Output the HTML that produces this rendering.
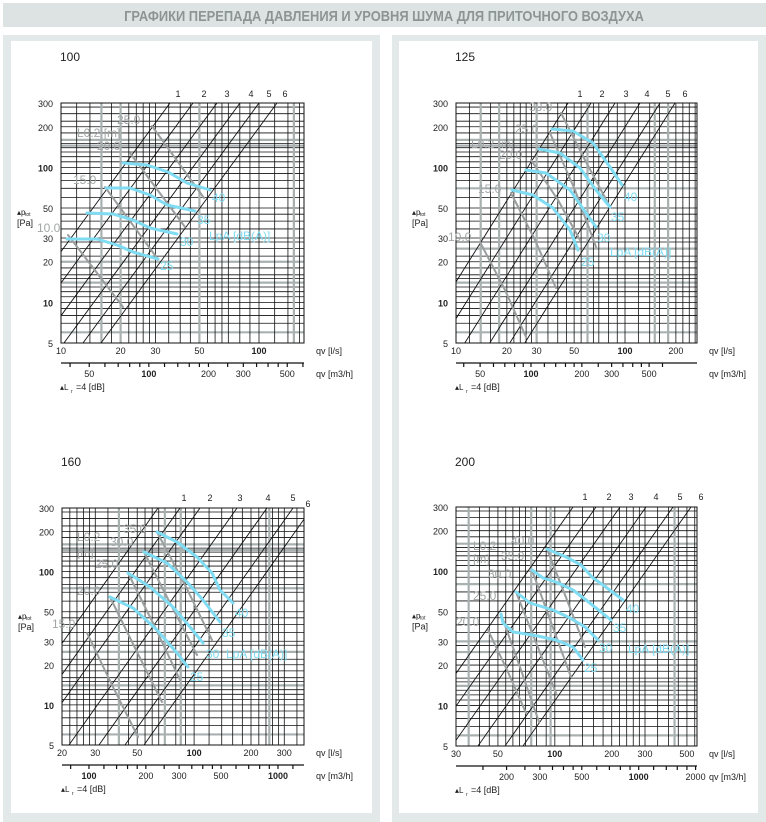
<!DOCTYPE html>
<html><head><meta charset="utf-8">
<style>
body{margin:0;background:#fff;width:766px;height:822px;overflow:hidden;font-family:"Liberation Sans",sans-serif}
svg{display:block}
</style></head><body>
<svg id="s" width="766" height="822" xmlns="http://www.w3.org/2000/svg" font-family="Liberation Sans, sans-serif">
<rect x="0" y="0" width="766" height="822" fill="#ffffff"/>
<rect x="3" y="3" width="763" height="24" fill="#dde3e3"/>
<text x="384" y="21" text-anchor="middle" font-size="15" font-weight="bold" fill="#8d9494" transform="translate(384 0) scale(0.86 1) translate(-384 0)">ГРАФИКИ ПЕРЕПАДА ДАВЛЕНИЯ И УРОВНЯ ШУМА ДЛЯ ПРИТОЧНОГО ВОЗДУХА</text>
<rect x="3" y="35" width="377" height="787" fill="#e3e9e9"/>
<rect x="392" y="35" width="374" height="787" fill="#e3e9e9"/>
<rect x="11" y="41" width="361" height="772" fill="#ffffff"/>
<rect x="399" y="41" width="359" height="772" fill="#ffffff"/>
<g id="g"></g>
</svg>
<script>
var NS="http://www.w3.org/2000/svg",G=document.getElementById('g');
function el(t,a,txt){var e=document.createElementNS(NS,t);for(var k in a)e.setAttribute(k,a[k]);if(txt!=null)e.textContent=txt;G.appendChild(e);return e;}
function L(x1,y1,x2,y2,c,w){el('line',{x1:x1,y1:y1,x2:x2,y2:y2,stroke:c,'stroke-width':w});}
function T(x,y,s,o){o=o||{};var a={x:x,y:y,'font-size':o.fs||9,fill:o.c||'#222'};if(o.a)a['text-anchor']=o.a;if(o.b)a['font-weight']='bold';el('text',a,s);}
function P(pts,c,w){el('polyline',{points:pts.map(function(p){return p.join(',')}).join(' '),fill:'none',stroke:c,'stroke-width':w,'stroke-linecap':'round','stroke-linejoin':'round'});}
var XS=[1,1.2,1.4,1.6,1.8,2,2.2,2.4,2.6,2.8,3,3.5,4,4.5,5,5.5,6,6.5,7,8,9];
var YS=[1,1.1,1.2,1.3,1.4,1.5,1.6,1.8,2,2.2,2.5,2.8,3,3.5,4,4.5,5,6,7,8,9];
function chart(c){
 var x0=c.x0,x1=c.x1,y0=c.y0,y1=c.y1,xpd=c.xpd,ypd=(y1-y0)/Math.log10(60);
 function X(v){return x0+Math.log10(v/c.xmin)*xpd;}
 function Y(v){return y1-Math.log10(v/5)*ypd;}
 T(c.x0-1,c.ty,c.title,{fs:12,c:'#222'});
 for(var d=0;d<=2;d++)YS.forEach(function(m){var v=m*Math.pow(10,d);if(v<5||v>300)return;var y=Y(v);L(x0,y,x1,y,'#111',0.8);});
 c.gh.forEach(function(v){var y=Y(v);L(x0,y,x1,y,'#a9b0b0',2.2);});
 for(d=0;d<=3;d++)XS.forEach(function(m){var v=m*Math.pow(10,d);var x=X(v);if(x<x0-0.5||x>x1+0.5)return;L(x,y0,x,y1,'#111',0.8);});
 c.gv.forEach(function(v){var x=X(v);L(x,y0,x,y1,'#a9b0b0',2.2);});
 el('rect',{x:x0,y:y0,width:x1-x0,height:y1-y0,fill:'none',stroke:'#111','stroke-width':1});
 var s=2*ypd/xpd;
 var cpth=el('clipPath',{id:'c'+c.title});
 var cp=document.createElementNS(NS,'rect');cpth.appendChild(cp);
 cp.setAttribute('x',x0);cp.setAttribute('y',y0);cp.setAttribute('width',x1-x0);cp.setAttribute('height',y1-y0);
 c.diag.forEach(function(xt){var xb=xt-(y1-y0)/s;el('line',{x1:xb,y1:y1,x2:xt,y2:y0,stroke:'#111','stroke-width':0.9,'clip-path':'url(#c'+c.title+')'});});
 c.dl.forEach(function(x,i){T(x,c.dly,String(i+1),{fs:9,a:'middle'});});
 c.gl.forEach(function(l){P(l,'#9a9e9e',2);});
 c.cy.forEach(function(l){P(l,'#7fdcf2',3);});
 c.glab.forEach(function(t){T(t[0],t[1],t[2],{fs:12,c:'#a2a6a6'});});
 c.clab.forEach(function(t){T(t[0],t[1],t[2],{fs:12,c:'#7fdcf2'});});
 [300,200,100,50,30,20,10,5].forEach(function(v){T(x0-8,Y(v)+4,String(v),{fs:9,a:'end',b:(v==100||v==10)});});
 T(c.x0-44,Y(45)+1,'\u25B4p',{fs:8});T(c.x0-36,Y(45)+2,'tot',{fs:5});
 T(c.x0-44,Y(45)+12,'[Pa]',{fs:9});
 c.xl.forEach(function(v){T(X(v),y1+11,String(v),{fs:9,a:'middle',b:v==100});});
 T(x1+12,y1+11,'qv [l/s]',{fs:9});
 var ay=y1+20;L(x0,ay,x1,ay,'#111',1.2);
 c.mt.forEach(function(v){var x=X(v/3.6);if(x<x0||x>x1)return;L(x,ay,x,ay+4,'#111',1.2);});
 c.ml.forEach(function(v){T(X(v/3.6),ay+14,String(v),{fs:9,a:'middle',b:v==100||v==1000});});
 T(x1+12,ay+14,'qv [m3/h]',{fs:9});
 T(x0-1,ay+27,'\u25B4L',{fs:8});T(x0+10,ay+30,'r',{fs:5});T(x0+15,ay+27,'=4 [dB]',{fs:9});
}
var MT1=[40,50,60,70,80,90,100,120,140,160,180,200,250,300,350,400,450,500,600];
var MT2=[80,100,120,140,160,180,200,250,300,350,400,450,500,600,700,800,900,1000,1200];
var MT3=[150,200,250,300,350,400,450,500,600,700,800,900,1000,1200,1400,1600,1800,2000];
chart({title:'100',ty:61,x0:61,x1:304,y0:103,y1:343,xmin:10,xpd:198,
 gh:[6,14,20,160,145],gv:[16,20,50,150],
 diag:[170,193,217,240,259,277],dl:[178,204,227,251,269,285],dly:97,
 gl:[[[152,126],[204,198]],[[130,153],[185,227]],[[105,187],[157,258]],[[68,235],[123,307]]],
 cy:[[[123,163],[147,165],[168,172],[187,183],[210,190]],[[106,188],[130,188],[150,195],[167,205],[195,211]],[[87,213],[113,214],[133,220],[150,228],[177,234]],[[67,239],[97,239],[117,245],[133,252],[158,259]]],
 glab:[[117,124,'25.0'],[77,137,'L0.2 [m]'],[97,150,'20.0'],[73,184,'15.0'],[37,232,'10.0']],
 clab:[[212,202,'40'],[197,224,'35'],[180,246,'30'],[160,270,'25'],[209,240,'LpA [dB(A)]']],
 xl:[10,20,30,50,100],ml:[50,100,200,300,500],mt:MT1});
chart({title:'125',ty:61,x0:456,x1:697,y0:103,y1:343,xmin:10,xpd:169,
 gh:[6,14,25,70,160,145],gv:[14,18,30,60,150,180],
 diag:[568,591,615,640,660,675],dl:[580,602,626,647,668,685],dly:97,
 gl:[[[561,113],[585,160],[610,207]],[[550,133],[575,190],[596,247]],[[531,160],[558,200],[580,240]],[[511,193],[535,240],[556,288]],[[480,242],[505,290],[526,337]]],
 cy:[[[552,129],[573,131],[593,143],[610,167],[622,185]],[[539,149],[560,153],[580,168],[596,190],[610,207]],[[526,170],[546,173],[570,190],[586,213],[596,227]],[[512,190],[533,195],[553,208],[570,230],[578,250]]],
 glab:[[529,111,'30.0'],[515,133,'25.0'],[471,148,'L0.2 [m]'],[499,159,'20.0'],[478,193,'15.0'],[448,241,'10.0']],
 clab:[[624,201,'40'],[611,221,'35'],[597,242,'30'],[581,266,'25'],[610,256,'LpA [dB(A)]']],
 xl:[10,20,30,50,100,200],ml:[50,100,200,300,500],mt:MT1});
chart({title:'160',ty:466,x0:62,x1:304,y0:508,y1:745,xmin:20,xpd:189,
 gh:[6,14,25,75,160,145],gv:[40,70,85,250],
 diag:[158,180,200,237,267,293,312],dl:[184,210,240,268,293],dly:501,
 gl:[[[157,532],[185,585],[212,640]],[[144,552],[170,603],[197,655]],[[128,573],[154,625],[180,680]],[[110,597],[136,650],[162,702]],[[87,633],[112,685],[138,737]]],
 cy:[[[157,532],[177,542],[197,557],[212,573],[220,590],[233,603]],[[144,552],[167,563],[187,582],[203,600],[220,622]],[[128,573],[150,587],[173,607],[190,627],[203,643]],[[110,597],[133,608],[157,630],[177,653],[188,667]]],
 glab:[[123,533,'35.0'],[77,541,'L0.2'],[110,546,'30.0'],[77,556,'[m]'],[95,568,'25.0'],[77,595,'20.0'],[52,628,'15.0']],
 clab:[[235,617,'40'],[222,637,'35'],[206,658,'30'],[190,681,'25'],[226,658,'LpA [dB(A)]']],
 xl:[20,30,50,100,200,300],ml:[100,200,300,500,1000],mt:MT2});
T(308,507,'6',{fs:9,a:'middle'});
chart({title:'200',ty:466,x0:456,x1:697,y0:507,y1:746,xmin:30,xpd:189,
 gh:[6,14,25,30,80,160],gv:[35,75,95,430],
 diag:[573,596,620,646,673,691],dl:[585,609,631,656,680,701],dly:500,
 gl:[[[547,549],[567,600],[585,647]],[[532,570],[552,625],[571,677]],[[516,592],[537,645],[556,693]],[[501,614],[521,670],[539,722]],[[488,630],[508,672],[526,713]]],
 cy:[[[547,549],[566,557],[581,565],[593,578],[603,585],[623,600]],[[532,570],[543,578],[556,582],[573,590],[586,600],[611,620]],[[516,592],[530,603],[553,610],[570,618],[585,627],[598,640]],[[501,614],[503,623],[513,632],[533,635],[556,640],[573,647],[583,660]]],
 glab:[[473,550,'L0.2'],[511,545,'40.0'],[501,560,'35.0'],[473,563,'[m]'],[488,578,'30.0'],[473,600,'25.0'],[456,626,'20.0']],
 clab:[[626,613,'40'],[613,632,'35'],[599,652,'30'],[584,672,'25'],[628,653,'LpA [dB(A)]']],
 xl:[30,50,100,200,300,500],ml:[200,300,500,1000,2000],mt:MT3});
</script>
</body></html>
